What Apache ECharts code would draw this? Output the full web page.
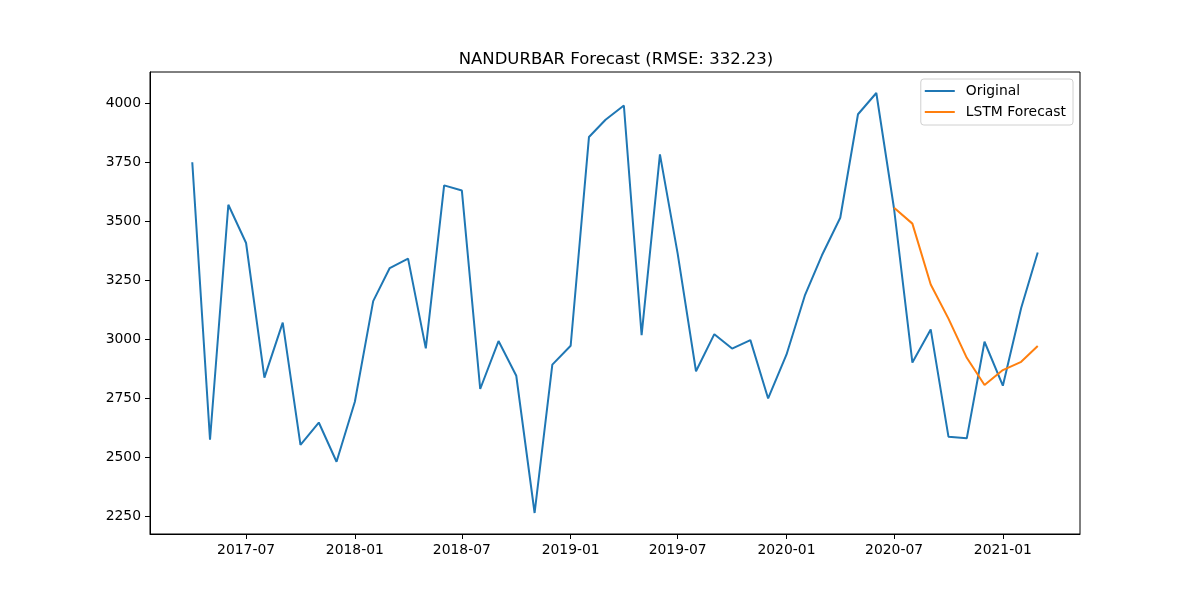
<!DOCTYPE html>
<html>
<head>
<meta charset="utf-8">
<title>NANDURBAR Forecast</title>
<script src="https://cdn.jsdelivr.net/npm/echarts@6/dist/echarts.min.js"></script>
<style>
html, body { margin: 0; padding: 0; background: #fff; }
#chart { width: 1200px; height: 600px; }
</style>
</head>
<body>
<div id="chart"></div>
<script>
// months (first day of each month)
var months = [
    '2017-04', '2017-05', '2017-06', '2017-07', '2017-08', '2017-09', '2017-10', '2017-11', '2017-12',
    '2018-01', '2018-02', '2018-03', '2018-04', '2018-05', '2018-06', '2018-07', '2018-08', '2018-09',
    '2018-10', '2018-11', '2018-12', '2019-01', '2019-02', '2019-03', '2019-04', '2019-05', '2019-06',
    '2019-07', '2019-08', '2019-09', '2019-10', '2019-11', '2019-12', '2020-01', '2020-02', '2020-03',
    '2020-04', '2020-05', '2020-06', '2020-07', '2020-08', '2020-09', '2020-10', '2020-11', '2020-12',
    '2021-01', '2021-02', '2021-03'
];
var original = [
    3750, 2575, 3570, 3408, 2838, 3071, 2553, 2648, 2482,
    2736, 3162, 3302, 3342, 2962, 3652, 3630, 2790, 2993,
    2846, 2265, 2893, 2973, 3857, 3930, 3990, 3018, 3783,
    3363, 2865, 3022, 2961, 2997, 2750, 2935, 3185, 3356,
    3515, 3953, 4043, 3553, 2902, 3042, 2588, 2581, 2990,
    2804, 3133, 3368
];
var forecastMonths = ['2020-07', '2020-08', '2020-09', '2020-10', '2020-11', '2020-12', '2021-01', '2021-02', '2021-03'];
var forecast = [3557, 3490, 3232, 3088, 2922, 2807, 2870, 2905, 2972];

var xTicks = ['2017-07', '2018-01', '2018-07', '2019-01', '2019-07', '2020-01', '2020-07', '2021-01'];
var yTicks = [2250, 2500, 2750, 3000, 3250, 3500, 3750, 4000];

function toTime(s) {
    var p = s.split('-');
    return Date.UTC(+p[0], +p[1] - 1, 1);
}
function pad(n) { return n < 10 ? '0' + n : '' + n; }

var origData = months.map(function (m, i) { return [toTime(m), original[i]]; });
var fcData = forecastMonths.map(function (m, i) { return [toTime(m), forecast[i]]; });

// matplotlib-like 5% margins
var t0 = toTime(months[0]), t1 = toTime(months[months.length - 1]);
var allY = original.concat(forecast);
var y0 = Math.min.apply(null, allY), y1 = Math.max.apply(null, allY);
var tPad = (t1 - t0) * 0.05, yPad = (y1 - y0) * 0.05;

var font = 'DejaVu Sans';

option = {
    animation: false,
    backgroundColor: '#fff',
    title: {
        text: 'NANDURBAR Forecast (RMSE: 332.23)',
        left: 611,
        textAlign: 'center',
        top: 46,
        textStyle: { fontFamily: font, fontSize: 16.5, fontWeight: 'normal', color: '#000' }
    },
    legend: {
        data: ['Original', 'LSTM Forecast'],
        orient: 'vertical',
        right: 127,
        top: 79,
        icon: 'rect',
        itemWidth: 30,
        itemHeight: 2,
        itemGap: 7,
        padding: [5, 7, 6, 4],
        borderColor: '#d0d0d0',
        borderWidth: 1,
        borderRadius: 3,
        backgroundColor: 'rgba(255,255,255,0.8)',
        align: 'left',
        textStyle: { fontFamily: font, fontSize: 13.9, color: '#000', padding: [0, 0, 0, 6] }
    },
    grid: {
        left: 150, right: 120, top: 72, bottom: 66,
        show: true, borderColor: '#000', borderWidth: 1, backgroundColor: 'transparent'
    },
    xAxis: {
        type: 'value',
        min: t0 - tPad,
        max: t1 + tPad,
        splitLine: { show: false },
        axisLine: { show: true, onZero: false, lineStyle: { color: '#000', width: 1 } },
        axisTick: {
            show: true, length: 5, lineStyle: { color: '#000' },
            customValues: xTicks.map(toTime)
        },
        axisLabel: {
            customValues: xTicks.map(toTime),
            margin: 9,
            fontFamily: font, fontSize: 13.9, color: '#000',
            formatter: function (v) {
                var d = new Date(v);
                return d.getUTCFullYear() + '-' + pad(d.getUTCMonth() + 1);
            }
        }
    },
    yAxis: {
        type: 'value',
        min: y0 - yPad,
        max: y1 + yPad,
        splitLine: { show: false },
        axisLine: { show: true, onZero: false, lineStyle: { color: '#000', width: 1 } },
        axisTick: { show: true, length: 5, lineStyle: { color: '#000' }, customValues: yTicks },
        axisLabel: {
            customValues: yTicks,
            margin: 9,
            fontFamily: font, fontSize: 13.9, color: '#000',
            formatter: function (v) { return String(v); }
        }
    },
    series: [
        {
            name: 'Original',
            type: 'line',
            data: origData,
            symbol: 'none',
            color: '#1f77b4',
            lineStyle: { width: 2, color: '#1f77b4' }
        },
        {
            name: 'LSTM Forecast',
            type: 'line',
            data: fcData,
            symbol: 'none',
            color: '#ff7f0e',
            lineStyle: { width: 2, color: '#ff7f0e' }
        }
    ]
};

var myChart = echarts.init(document.getElementById('chart'));
myChart.setOption(option);
</script>
</body>
</html>
